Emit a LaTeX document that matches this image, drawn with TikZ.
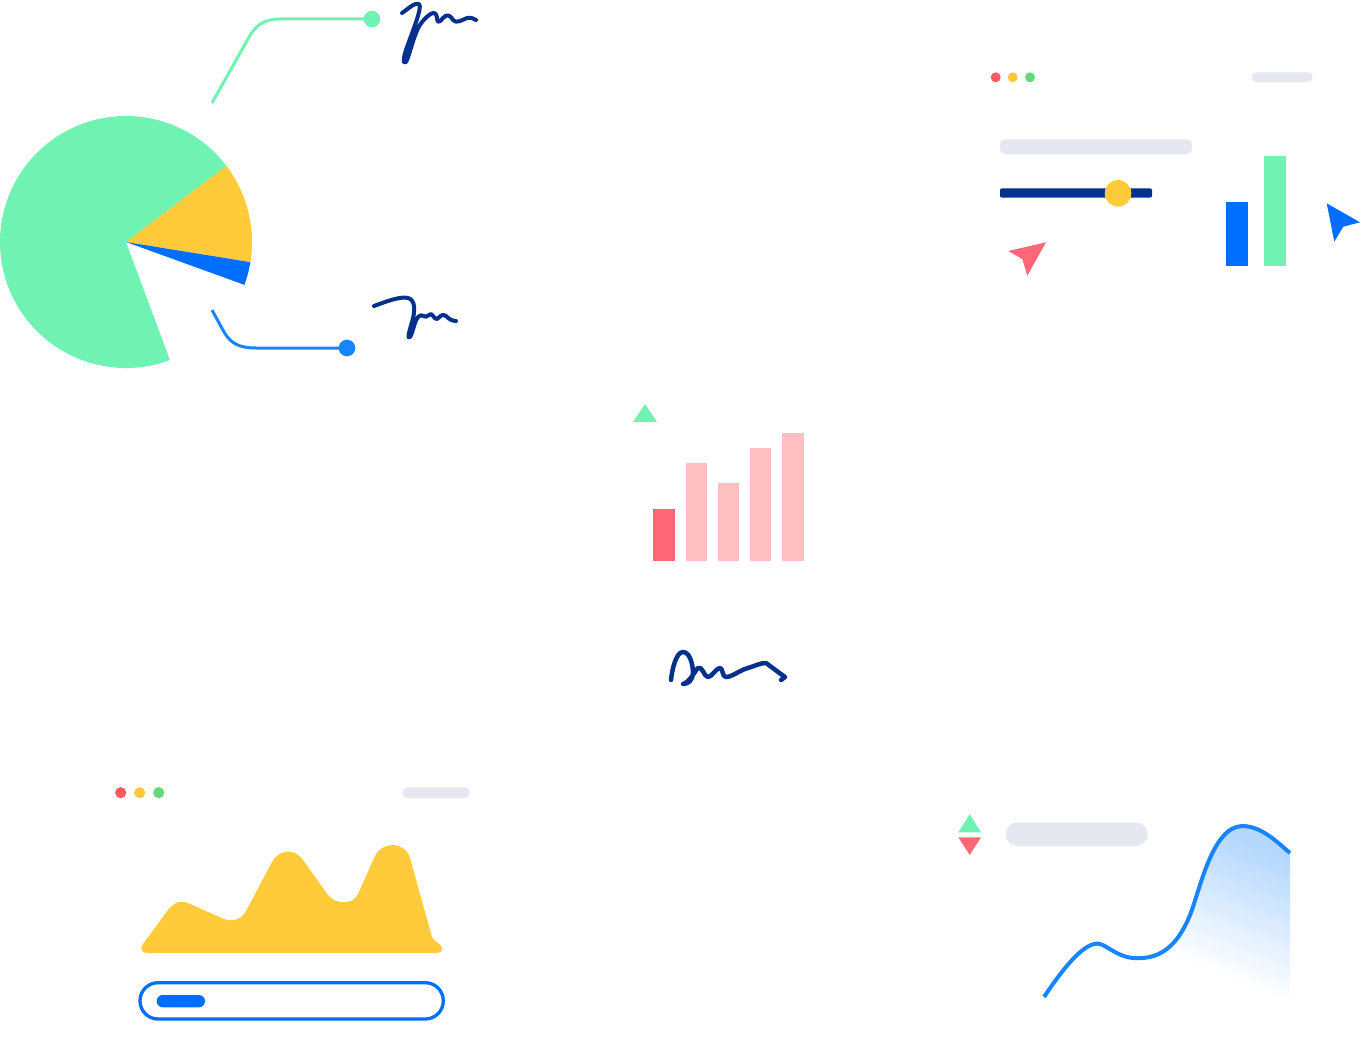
\documentclass[tikz,border=0pt]{standalone}
\usetikzlibrary{calc}
\definecolor{pgreen}{HTML}{6FF2B2}
\definecolor{pyellow}{HTML}{FFCB3B}
\definecolor{pblue}{HTML}{006FFF}
\definecolor{lblue}{HTML}{1785FF}
\definecolor{navy}{HTML}{05308B}
\definecolor{dred}{HTML}{FF5A5F}
\definecolor{dyellow}{HTML}{FFC93C}
\definecolor{dgreen}{HTML}{66D87A}
\definecolor{pillgrey}{HTML}{E5E8F0}
\definecolor{pink}{HTML}{FFBFC0}
\definecolor{barred}{HTML}{FF6777}
\definecolor{shadeblue}{HTML}{B3D7FD}
\pgfdeclareverticalshading{areafade}{100bp}{color(0bp)=(white); color(40bp)=(white); color(75bp)=(shadeblue); color(100bp)=(shadeblue)}
\tikzset{
  sig/.style={draw=navy, line width=4, line cap=round, line join=round},
  leader/.style={line width=3, line cap=butt},
  pill/.style={fill=pillgrey},
}
\begin{document}
\begin{tikzpicture}[x=1pt,y=-1pt]
\useasboundingbox (0,0) rectangle (1361,1051);
% ---------- pie chart ----------
\coordinate (pc) at (126,242);
\fill[pgreen] (pc) -- ++(69.6:126) arc[start angle=69.6, end angle=322.8, radius=126] -- cycle;
\fill[pyellow] (pc) -- ++(-37.2:126) arc[start angle=-37.2, end angle=9.2, radius=126] -- cycle;
\fill[pblue] (pc) -- ++(9.2:126) arc[start angle=9.2, end angle=19.9, radius=126] -- cycle;
% leaders
\coordinate (g0) at (212,103);
\coordinate (gdot) at (372,19);
\draw[leader, draw=pgreen] (g0) -- (248,39) .. controls (255,26) and (263,19) .. (280,19) -- (gdot);
\fill[pgreen] (gdot) circle[radius=8.3];
\coordinate (b0) at (212,310);
\coordinate (bdot) at (347,348);
\draw[leader, draw=lblue] (b0) -- (224,332) .. controls (231,344) and (240,348) .. (256,348) -- (bdot);
\fill[lblue] (bdot) circle[radius=8.3];
% signatures
\draw[sig] (402,13) .. controls (408,9) and (415,2) .. (419,4) .. controls (423,7) and (411,35) .. (406,50) .. controls (402,62) and (404,66) .. (407,60) .. controls (411,50) and (415,30) .. (422,22) .. controls (428,15) and (436,8) .. (437,18) .. controls (437,24) and (440,22) .. (443,18) .. controls (447,13) and (451,16) .. (453,20) .. controls (456,24) and (462,20) .. (467,18) .. controls (471,17) and (474,19) .. (476,20);
\draw[sig] (374,306) .. controls (385,302) and (400,296) .. (408,298) .. controls (416,300) and (415,312) .. (412,322) .. controls (409,332) and (407,340) .. (410,337) .. controls (413,333) and (414,322) .. (418,317) .. controls (422,312) and (425,320) .. (429,315) .. controls (432,311) and (434,320) .. (437,319) .. controls (440,317) and (442,313) .. (446,316) .. controls (449,319) and (452,321) .. (456,321);
\draw[sig, line width=4.5] (671,680) .. controls (672,670) and (676,652) .. (683,652) .. controls (690,652) and (693,665) .. (693,673) .. controls (693,680) and (688,684) .. (683,684) .. controls (690,682) and (694,672) .. (698,668) .. controls (702,665) and (704,677) .. (708,677) .. controls (712,677) and (716,668) .. (720,668) .. controls (723,668) and (722,677) .. (726,677) .. controls (732,677) and (740,670) .. (748,668) .. controls (755,666) and (760,663) .. (766,663) .. controls (770,666) and (778,672) .. (785,677) -- (781,680);
% ---------- center bar chart ----------
\fill[pgreen] (633,422) -- (657,422) -- (645,404) -- cycle;
\fill[barred] (653,509) rectangle (675,561);
\fill[pink] (686,463) rectangle (707,561);
\fill[pink] (718,483) rectangle (739,561);
\fill[pink] (750,448) rectangle (771,561);
\fill[pink] (782,433) rectangle (804,561);
% ---------- top-right window ----------
\fill[dred] (995.7,77.3) circle[radius=5];
\fill[dyellow] (1012.7,77.3) circle[radius=5];
\fill[dgreen] (1030,77.3) circle[radius=5];
\fill[pill, rounded corners=5] (1251.7,72.3) rectangle (1312.7,82.3);
\fill[pill, rounded corners=5] (1000,139.3) rectangle (1192,154.3);
\fill[navy, rounded corners=2] (1000,188.3) rectangle (1152,197.7);
\fill[pyellow] (1118,193.3) circle[radius=13.3];
\fill[barred] (1046,242.3) -- (1008.3,251) -- (1022.3,259) -- (1027.3,275.7) -- cycle;
\fill[pblue] (1225.7,201.7) rectangle (1247.7,265.7);
\fill[pgreen] (1264,156) rectangle (1286,265.7);
\fill[pblue] (1326.7,203.3) -- (1360,222.3) -- (1343.3,226.7) -- (1334.3,241.7) -- cycle;
% ---------- bottom-left window ----------
\fill[dred] (120.7,792.7) circle[radius=5.6];
\fill[dyellow] (139.7,792.7) circle[radius=5.6];
\fill[dgreen] (158.7,792.7) circle[radius=5.6];
\fill[pill, rounded corners=5.3] (402.3,787.3) rectangle (470,798);
\fill[pyellow] (147,953) .. controls (141,953) and (140,948) .. (143,944) -- (168,910) .. controls (175,901) and (182,900) .. (190,904) -- (224,919) .. controls (232,922) and (241,920) .. (246,911) -- (272,862) .. controls (279,849) and (295,848) .. (303,860) -- (328,895) .. controls (336,905) and (353,905) .. (358,894) -- (375,856) .. controls (382,841) and (405,841) .. (410,858) -- (432,937) .. controls (434,942) and (442,944) .. (442,948) .. controls (442,952) and (440,953) .. (437,953) -- cycle;
\draw[pblue, line width=3.3, rounded corners=18] (140,982.7) rectangle (443.3,1019);
\fill[pblue, rounded corners=6] (156.7,995) rectangle (205,1007.3);
% ---------- bottom-right ----------
\fill[pgreen] (958.3,832.3) -- (981,832.3) -- (969.7,814.3) -- cycle;
\fill[barred] (958.3,837.3) -- (981,837.3) -- (969.7,855) -- cycle;
\fill[pill, rounded corners=11.8] (1005.7,822.3) rectangle (1147.7,846);
\shade[shading=areafade, shading angle=-22]
  (1044,997) .. controls (1062,970) and (1085,940) .. (1100,944) .. controls (1110,947) and (1120,960) .. (1142,958) .. controls (1165,957) and (1180,940) .. (1190,915) .. controls (1200,890) and (1212,827) .. (1242,826) .. controls (1262,826) and (1278,843) .. (1290,853) -- (1290,997) -- cycle;
\draw[lblue, line width=4] (1044,997) .. controls (1062,970) and (1085,940) .. (1100,944) .. controls (1110,947) and (1120,960) .. (1142,958) .. controls (1165,957) and (1180,940) .. (1190,915) .. controls (1200,890) and (1212,827) .. (1242,826) .. controls (1262,826) and (1278,843) .. (1290,853);
\end{tikzpicture}
\end{document}
